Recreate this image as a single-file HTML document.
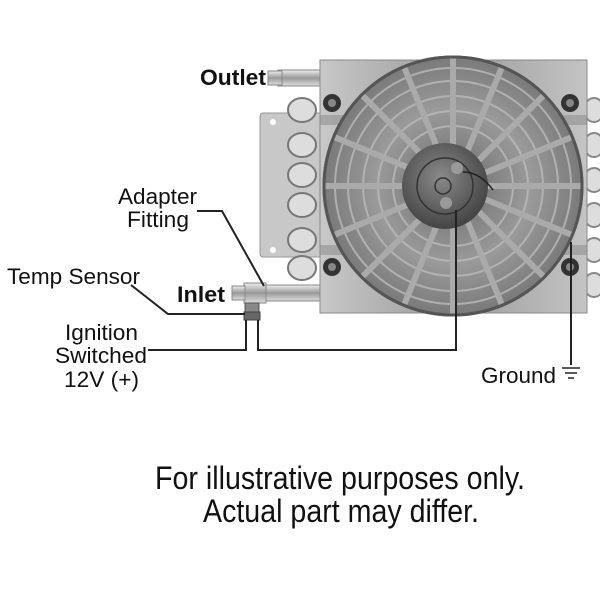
<!DOCTYPE html>
<html><head><style>body{margin:0;background:#fff}svg{display:block}</style></head><body>
<svg width="600" height="600" viewBox="0 0 600 600" font-family="Liberation Sans, sans-serif">
<defs>
<linearGradient id="body" x1="0" x2="1"><stop offset="0" stop-color="#c8c8c8"/><stop offset=".5" stop-color="#9a9a9a"/><stop offset="1" stop-color="#c4c4c4"/></linearGradient>
<radialGradient id="fan" cx=".5" cy=".5" r=".5"><stop offset="0" stop-color="#6a6a6a"/><stop offset=".6" stop-color="#9a9a9a"/><stop offset="1" stop-color="#7a7a7a"/></radialGradient>
<radialGradient id="hub" cx=".45" cy=".4" r=".6"><stop offset="0" stop-color="#8a8a8a"/><stop offset="1" stop-color="#444"/></radialGradient>
<linearGradient id="pipe" x1="0" y1="0" x2="0" y2="1"><stop offset="0" stop-color="#eee"/><stop offset=".5" stop-color="#999"/><stop offset="1" stop-color="#ddd"/></linearGradient>
</defs>
<rect x="260" y="113" width="62" height="144" rx="3" fill="#c8c8c8" stroke="#999"/>
<circle cx="273" cy="122" r="3" fill="#fff"/><circle cx="273" cy="250" r="3" fill="#fff"/>
<g fill="#ddd" stroke="#888" stroke-width="2">
<ellipse cx="594" cy="110" rx="10" ry="12"/><ellipse cx="594" cy="145" rx="10" ry="12"/><ellipse cx="594" cy="180" rx="10" ry="12"/><ellipse cx="594" cy="215" rx="10" ry="12"/><ellipse cx="594" cy="250" rx="10" ry="12"/><ellipse cx="594" cy="285" rx="10" ry="12"/>
</g>
<g fill="#ddd" stroke="#777" stroke-width="2">
<ellipse cx="302" cy="110" rx="14" ry="12"/><ellipse cx="302" cy="145" rx="14" ry="12"/><ellipse cx="302" cy="175" rx="14" ry="12"/><ellipse cx="302" cy="205" rx="14" ry="12"/><ellipse cx="302" cy="240" rx="14" ry="12"/><ellipse cx="302" cy="268" rx="14" ry="12"/>
</g>
<rect x="320" y="60" width="267" height="253" fill="url(#body)" stroke="#888"/>
<rect x="320" y="115" width="267" height="10" fill="#888" opacity=".5"/>
<rect x="320" y="245" width="267" height="10" fill="#888" opacity=".5"/>
<g fill="#333"><circle cx="332" cy="103" r="9"/><circle cx="570" cy="103" r="9"/><circle cx="332" cy="267" r="9"/><circle cx="570" cy="267" r="9"/></g>
<g fill="#888"><circle cx="332" cy="103" r="4"/><circle cx="570" cy="103" r="4"/><circle cx="332" cy="267" r="4"/><circle cx="570" cy="267" r="4"/></g>
<circle cx="453" cy="186" r="129" fill="url(#fan)" stroke="#666" stroke-width="3"/>
<g fill="none" stroke="#bbb" stroke-width="2" opacity=".8">
<circle cx="453" cy="186" r="60"/><circle cx="453" cy="186" r="75"/><circle cx="453" cy="186" r="90"/><circle cx="453" cy="186" r="105"/><circle cx="453" cy="186" r="118"/>
</g>
<g stroke="#aaa" stroke-width="6">
<line x1="453" y1="57" x2="453" y2="315"/><line x1="324" y1="186" x2="582" y2="186"/>
<line x1="362" y1="95" x2="544" y2="277"/><line x1="544" y1="95" x2="362" y2="277"/>
<line x1="404" y1="67" x2="502" y2="305"/><line x1="502" y1="67" x2="404" y2="305"/>
<line x1="334" y1="137" x2="572" y2="235"/><line x1="572" y1="137" x2="334" y2="235"/>
</g>
<circle cx="453" cy="186" r="129" fill="none" stroke="#555" stroke-width="3"/>
<circle cx="445" cy="186" r="43" fill="url(#hub)"/>
<circle cx="445" cy="186" r="28" fill="none" stroke="#333" stroke-width="1.5"/>
<circle cx="443" cy="186" r="8" fill="none" stroke="#333" stroke-width="1.5"/>
<circle cx="457" cy="168" r="6" fill="#999"/><circle cx="446" cy="203" r="6" fill="#999"/>
<path d="M463 172 Q480 172 493 190" fill="none" stroke="#222" stroke-width="1.5"/>
<rect x="278" y="70" width="42" height="16" fill="url(#pipe)" stroke="#888"/>
<rect x="268" y="71" width="14" height="14" fill="url(#pipe)" stroke="#888"/>
<rect x="262" y="285" width="58" height="16" fill="url(#pipe)" stroke="#888"/>
<rect x="244" y="283" width="22" height="20" fill="url(#pipe)" stroke="#888"/>
<rect x="232" y="286" width="13" height="14" fill="url(#pipe)" stroke="#888"/>
<rect x="245" y="303" width="14" height="10" fill="#888" stroke="#555"/>
<rect x="244" y="312" width="16" height="8" fill="#666" stroke="#444"/>
<g fill="none" stroke="#222" stroke-width="2">
<polyline points="197,211 222,211 264,286"/>
<polyline points="131,285 168,314 245,314"/>
<polyline points="148,350 246,350 246,320"/>
<polyline points="258,320 258,350 456,350 456,210"/>
<polyline points="571,242 571,365"/>
</g>
<g stroke="#222" stroke-width="1.5"><line x1="562" y1="368" x2="580" y2="368"/><line x1="565" y1="373" x2="577" y2="373"/><line x1="568" y1="378" x2="574" y2="378"/></g>
<g fill="#111" font-size="22">
<text x="200" y="85" font-weight="bold" font-size="22" textLength="66" lengthAdjust="spacingAndGlyphs">Outlet</text>
<text x="177" y="302" font-weight="bold" font-size="22" textLength="48" lengthAdjust="spacingAndGlyphs">Inlet</text>
<text x="118" y="204" textLength="79" lengthAdjust="spacingAndGlyphs">Adapter</text>
<text x="127" y="227" textLength="62" lengthAdjust="spacingAndGlyphs">Fitting</text>
<text x="7" y="284" textLength="133" lengthAdjust="spacingAndGlyphs">Temp Sensor</text>
<text x="65" y="340" textLength="73" lengthAdjust="spacingAndGlyphs">Ignition</text>
<text x="55" y="363" textLength="92" lengthAdjust="spacingAndGlyphs">Switched</text>
<text x="64" y="387" textLength="75" lengthAdjust="spacingAndGlyphs">12V (+)</text>
<text x="481" y="383" textLength="75" lengthAdjust="spacingAndGlyphs">Ground</text>
<text x="155" y="489" font-size="32" textLength="370" lengthAdjust="spacingAndGlyphs">For illustrative purposes only.</text>
<text x="203" y="522" font-size="32" textLength="276" lengthAdjust="spacingAndGlyphs">Actual part may differ.</text>
</g>
</svg>
</body></html>
